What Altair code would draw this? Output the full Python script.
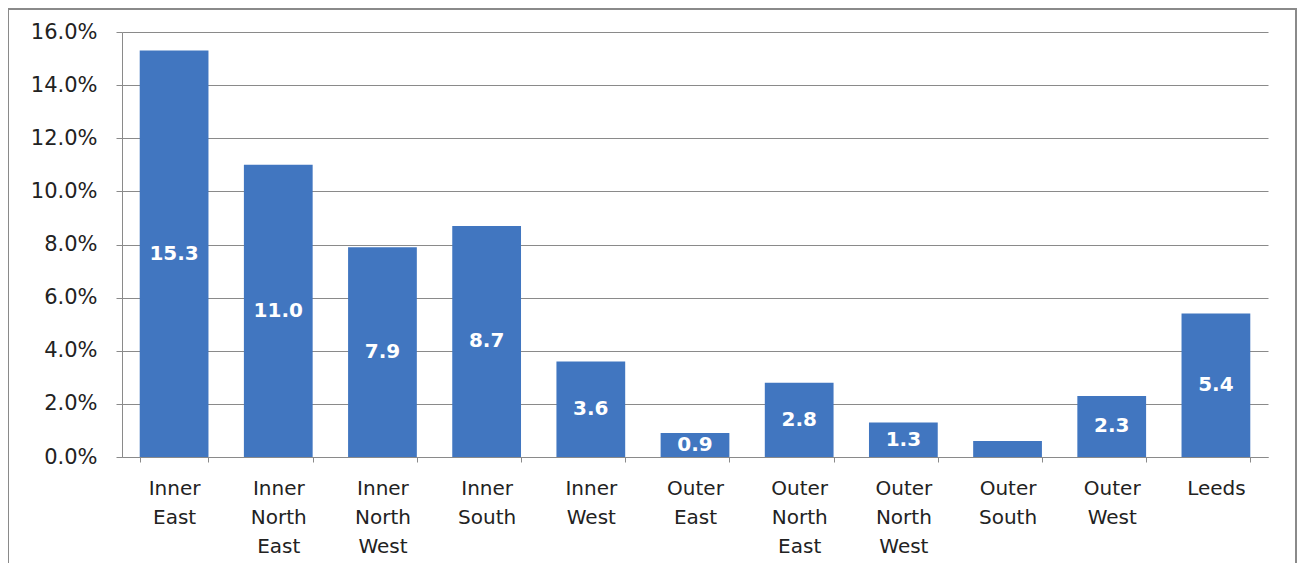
import altair as alt
import pandas as pd

categories = ["Inner East", "Inner North East", "Inner North West", "Inner South",
              "Inner West", "Outer East", "Outer North East", "Outer North West",
              "Outer South", "Outer West", "Leeds"]
values = [15.3, 11.0, 7.9, 8.7, 3.6, 0.9, 2.8, 1.3, 0.6, 2.3, 5.4]
labels = ["15.3", "11.0", "7.9", "8.7", "3.6", "0.9", "2.8", "1.3", "", "2.3", "5.4"]

df = pd.DataFrame({"cat": categories, "val": values, "lab": labels})

FONT = "DejaVu Sans"
BLUE = "#4176C0"

base = alt.Chart(df).transform_calculate(
    v="datum.val / 100", half="datum.val / 200"
)

x = alt.X("cat:N", sort=categories, title=None,
          scale=alt.Scale(paddingInner=0.34, paddingOuter=0.17),
          axis=alt.Axis(labelAngle=0, labelExpr="split(datum.label, ' ')",
                        labelFontSize=20, labelLineHeight=29, labelPadding=16,
                        labelColor="#222222", labelFont=FONT, labelBaseline="top",
                        tickBand="extent", tickSize=5, tickColor="#8a8a8a",
                        domainColor="#8a8a8a", grid=False))

bars = base.mark_bar(color=BLUE).encode(
    x=x,
    y=alt.Y("v:Q", title=None,
            scale=alt.Scale(domain=[0, 0.16], nice=False),
            axis=alt.Axis(format=".1%", values=[0, 0.02, 0.04, 0.06, 0.08, 0.10, 0.12, 0.14, 0.16],
                          labelFontSize=21, labelColor="#222222", labelFont=FONT,
                          labelPadding=19, tickSize=6, tickColor="#8a8a8a",
                          domainColor="#8a8a8a", gridColor="#8a8a8a", gridWidth=1)),
)

text = base.mark_text(color="white", fontSize=20, fontWeight="bold", font=FONT).encode(
    x=alt.X("cat:N", sort=categories),
    y=alt.Y("half:Q"),
    text="lab:N",
)

frame = alt.Chart(pd.DataFrame({"a": [0]})).mark_rect(
    fill=None, stroke="#8a8a8a", strokeWidth=2, clip=False
).encode(
    x=alt.value(-114), x2=alt.value(1174), y=alt.value(-23), y2=alt.value(560)
)

chart = alt.layer(frame, bars, text).properties(
    width=1146, height=425,
    padding={"left": 114, "top": 24, "right": 30, "bottom": 106},
    autosize=alt.AutoSizeParams(type="none"),
).configure_view(stroke=None)

chart.save("out.html", embed_options={"renderer": "svg", "actions": False})
